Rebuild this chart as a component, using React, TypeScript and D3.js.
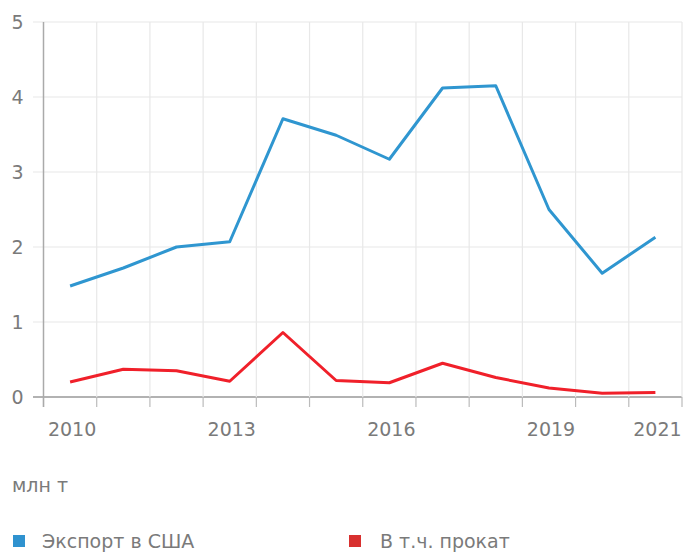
import React from 'react'
import * as d3 from 'd3'

// values, млн т
const years = ['2010', '2011', '2012', '2013', '2014', '2015', '2016', '2017', '2018', '2019', '2020', '2021']
const exportUS = [1.48, 1.72, 2.0, 2.07, 3.71, 3.49, 3.17, 4.12, 4.15, 2.5, 1.65, 2.13]
const rolled = [0.2, 0.37, 0.35, 0.21, 0.86, 0.22, 0.19, 0.45, 0.26, 0.12, 0.05, 0.06]
const yTicks = [0, 1, 2, 3, 4, 5]
const xLabels = ['2010', '2013', '2016', '2019', '2021']

const W = 686
const H = 554
const font = '"DejaVu Sans", sans-serif'
const textColor = '#7a7a7a'

const App = () => {
  const x = d3.scaleBand().domain(years).range([43.5, 682]).padding(0)
  const y = d3.scaleLinear().domain([0, 5]).range([397, 22])

  const line = d3
    .line<number>()
    .x((_, i) => (x(years[i]) as number) + x.bandwidth() / 2)
    .y((d) => y(d))

  const series = [
    { name: 'Экспорт в США', values: exportUS, color: '#2f96d0', legend: '#2f92cf', lx: 13, tx: 42 },
    { name: 'В т.ч. прокат', values: rolled, color: '#f0202a', legend: '#d8302f', lx: 349, tx: 380 },
  ]

  const bounds = years.map((yr) => x(yr) as number).concat([x.range()[1]])

  return (
    <svg width={W} height={H} style={{ position: 'absolute', left: 0, top: 0 }}>
      <rect width={W} height={H} fill="#fff" />
      {/* horizontal grid */}
      {yTicks.map((t) => (
        <line key={`h${t}`} x1={33} x2={682} y1={y(t)} y2={y(t)} stroke={t === 0 ? '#999' : '#e8e8e8'} strokeWidth={t === 0 ? 1.5 : 1.2} />
      ))}
      {/* vertical grid at band edges */}
      {bounds.slice(1).map((b, i) => (
        <line key={`v${i}`} x1={b} x2={b} y1={y(5)} y2={y(0)} stroke="#e8e8e8" strokeWidth={1.2} />
      ))}
      {/* ticks below the axis */}
      {bounds.map((b, i) => (
        <line key={`t${i}`} x1={b} x2={b} y1={y(0)} y2={y(0) + 10} stroke="#bbb" strokeWidth={1.2} />
      ))}
      {/* y axis */}
      <line x1={bounds[0]} x2={bounds[0]} y1={y(5)} y2={y(0) + 10} stroke="#aaa" strokeWidth={1.5} />
      {yTicks.map((t) => (
        <text key={`yl${t}`} x={17.5} y={y(t)} dy="0.36em" textAnchor="middle" fontFamily={font} fontSize={19} fill={textColor}>
          {t}
        </text>
      ))}
      {xLabels.map((l) => (
        <text key={`xl${l}`} x={(x(l) as number) + x.bandwidth() / 2 + 2} y={436} textAnchor="middle" fontFamily={font} fontSize={19} fill={textColor}>
          {l}
        </text>
      ))}
      {series.map((s) => (
        <path key={s.name} d={line(s.values) ?? ''} fill="none" stroke={s.color} strokeWidth={3} strokeLinejoin="round" />
      ))}
      <text x={12} y={492} fontFamily={font} fontSize={19} fill={textColor}>
        млн т
      </text>
      {series.map((s, i) => (
        <g key={`lg${i}`}>
          <rect x={s.lx} y={535} width={12} height={12} fill={s.legend} />
          <text x={s.tx} y={548} fontFamily={font} fontSize={19} fill={textColor}>
            {s.name}
          </text>
        </g>
      ))}
    </svg>
  )
}

export default App
